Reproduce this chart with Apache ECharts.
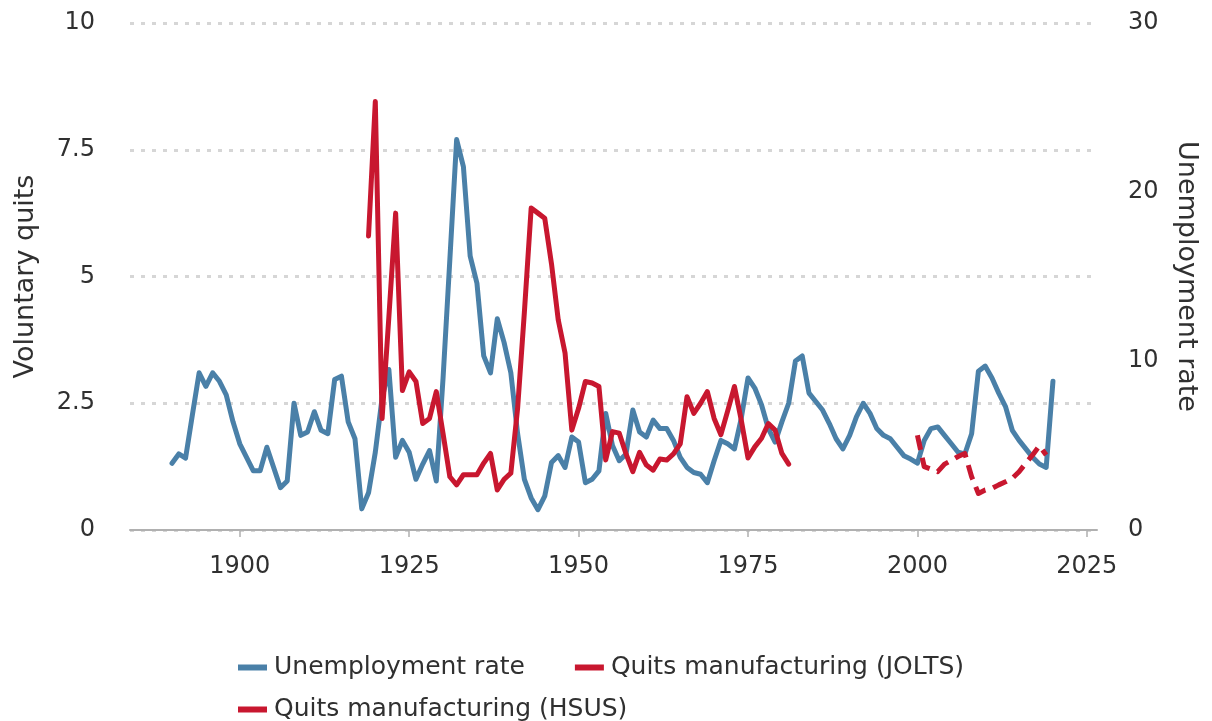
<!DOCTYPE html>
<html>
<head>
<meta charset="utf-8">
<script src="https://cdn.jsdelivr.net/npm/echarts@6/dist/echarts.min.js"></script>
<style>
html,body{margin:0;padding:0;background:#fff;}
#chart{width:1212px;height:721px;}
</style>
</head>
<body>
<div id="chart"></div>
<script>
// Unemployment rate (right axis), annual, 1890-2020
const unempStartYear = 1890;
const unempValues = [
  3.95, 4.5, 4.25, 6.8, 9.3, 8.5, 9.3, 8.8, 8.0, 6.4,
  5.1, 4.3, 3.5, 3.5, 4.9, 3.7, 2.5, 2.9, 7.5, 5.6,
  5.8, 7.0, 5.9, 5.7, 8.9, 9.1, 6.4, 5.4, 1.25, 2.2,
  4.6, 7.8, 9.5, 4.3, 5.3, 4.6, 3.0, 3.9, 4.7, 2.9,
  9.0, 16.0, 23.1, 21.5, 16.2, 14.6, 10.3, 9.3, 12.5, 11.1,
  9.3, 5.7, 3.0, 1.9, 1.2, 2.0, 4.0, 4.4, 3.7, 5.5,
  5.2, 2.8, 3.0, 3.5, 6.9, 5.0, 4.1, 4.5, 7.1, 5.8,
  5.5, 6.5, 6.0, 6.0, 5.3, 4.3, 3.7, 3.4, 3.3, 2.8,
  4.1, 5.3, 5.1, 4.8, 6.6, 9.0, 8.4, 7.4, 6.0, 5.2,
  6.4, 7.5, 10.0, 10.3, 8.1, 7.6, 7.1, 6.3, 5.4, 4.8,
  5.6, 6.7, 7.5, 6.9, 6.0, 5.6, 5.4, 4.9, 4.4, 4.2,
  3.95, 5.3, 6.0, 6.1, 5.6, 5.1, 4.6, 4.5, 5.7, 9.4,
  9.7, 9.0, 8.1, 7.3, 5.9, 5.3, 4.8, 4.3, 3.9, 3.7, 8.8
];

// Quits manufacturing (HSUS), left axis, 1919-1981
const hsusStartYear = 1919;
const hsusValues = [
  5.8, 8.45, 2.2, 4.2, 6.25, 2.75, 3.12, 2.93, 2.1, 2.2,
  2.73, 1.9, 1.05, 0.89, 1.09, 1.09, 1.09, 1.32, 1.51, 0.79,
  1.0, 1.12, 2.4, 4.3, 6.35, 6.25, 6.15, 5.25, 4.14, 3.49,
  1.97, 2.4, 2.93, 2.9, 2.83, 1.38, 1.94, 1.91, 1.5, 1.15,
  1.53, 1.28, 1.18, 1.4, 1.38, 1.5, 1.7, 2.63, 2.3, 2.5,
  2.73, 2.2, 1.88, 2.35, 2.83, 2.17, 1.42, 1.64, 1.81, 2.1,
  1.97, 1.51, 1.3
];

// Quits manufacturing (JOLTS), left axis, 2000-2019
const joltsStartYear = 2000;
const joltsValues = [
  1.87, 1.25, 1.2, 1.15, 1.3, 1.37, 1.45, 1.51, 1.05, 0.72,
  0.79, 0.82, 0.89, 0.95, 1.02, 1.15, 1.32, 1.48, 1.66, 1.48
];

const xTickYears = [1900, 1925, 1950, 1975, 2000, 2025];

function pairs(start, vals) {
  return vals.map((v, i) => [start + i, v]);
}

const BLUE = '#4a80a8';
const RED = '#c8172f';
const FONT = 'DejaVu Sans';
const TXT = '#303030';

const chart = echarts.init(document.getElementById('chart'), null, {renderer: 'canvas'});
chart.setOption({
  animation: false,
  backgroundColor: '#ffffff',
  textStyle: {fontFamily: FONT, color: TXT},
  grid: {left: 130, right: 115, top: 23, bottom: 191, containLabel: false},
  legend: [
    {
      data: ['Unemployment rate', 'Quits manufacturing (JOLTS)'],
      left: 233, top: 650,
      orient: 'horizontal',
      itemWidth: 29, itemHeight: 6, itemGap: 50,
      icon: 'rect',
      textStyle: {fontFamily: FONT, fontSize: 25, color: TXT, padding: [0, 0, 0, 2]},
      selectedMode: false
    },
    {
      data: ['Quits manufacturing (HSUS)'],
      left: 233, top: 692,
      itemWidth: 29, itemHeight: 6,
      icon: 'rect',
      textStyle: {fontFamily: FONT, fontSize: 25, color: TXT, padding: [0, 0, 0, 2]},
      selectedMode: false
    }
  ],
  xAxis: {
    type: 'value',
    min: 1883.8,
    max: 2026.5,
    axisLine: {show: true, lineStyle: {color: '#b0b0b0', width: 2}},
    axisTick: {show: true, customValues: xTickYears, length: 7, lineStyle: {color: '#b0b0b0', width: 1.5}},
    axisLabel: {
      customValues: xTickYears, fontSize: 24, color: TXT, fontFamily: FONT, margin: 25,
      formatter: function (v) { return String(Math.round(v)); }
    },
    splitLine: {show: false}
  },
  yAxis: [
    {
      type: 'value',
      min: 0, max: 10, interval: 2.5,
      name: 'Voluntary quits',
      nameLocation: 'middle',
      nameGap: 91,
      nameTextStyle: {fontSize: 27, color: TXT, fontFamily: FONT},
      axisLine: {show: false},
      axisTick: {show: false},
      axisLabel: {fontSize: 24, color: TXT, fontFamily: FONT, margin: 35},
      splitLine: {show: true, lineStyle: {color: '#d6d6d6', width: 3, type: [4, 7]}}
    },
    {
      type: 'value',
      min: 0, max: 30, interval: 10,
      name: 'Unemployment rate',
      nameLocation: 'middle',
      nameGap: 76,
      nameRotate: -90,
      nameTextStyle: {fontSize: 27, color: TXT, fontFamily: FONT},
      axisLine: {show: false},
      axisTick: {show: false},
      axisLabel: {fontSize: 24, color: TXT, fontFamily: FONT, margin: 31},
      splitLine: {show: false}
    }
  ],
  series: [
    {
      name: 'Unemployment rate',
      type: 'line',
      yAxisIndex: 1,
      data: pairs(unempStartYear, unempValues),
      showSymbol: false,
      symbol: 'none',
      color: BLUE,
      lineStyle: {color: BLUE, width: 5, join: 'round', cap: 'round'},
      z: 2
    },
    {
      name: 'Quits manufacturing (JOLTS)',
      type: 'line',
      yAxisIndex: 0,
      data: pairs(joltsStartYear, joltsValues),
      showSymbol: false,
      symbol: 'none',
      color: RED,
      lineStyle: {color: RED, width: 5, type: [15, 8], join: 'round'},
      z: 3
    },
    {
      name: 'Quits manufacturing (HSUS)',
      type: 'line',
      yAxisIndex: 0,
      data: pairs(hsusStartYear, hsusValues),
      showSymbol: false,
      symbol: 'none',
      color: RED,
      lineStyle: {color: RED, width: 5, join: 'round', cap: 'round'},
      z: 3
    }
  ]
});
</script>
</body>
</html>
